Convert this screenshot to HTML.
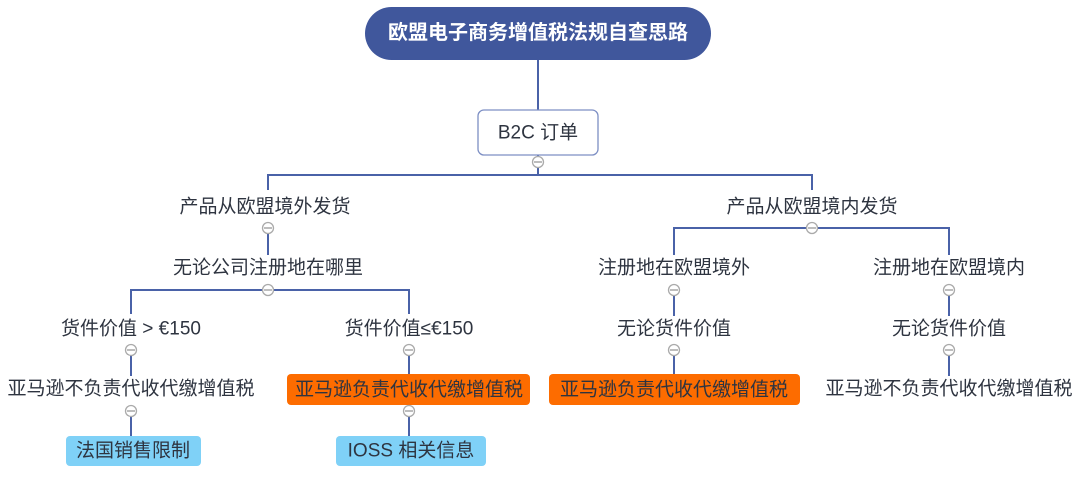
<!DOCTYPE html>
<html><head><meta charset="utf-8"><style>
html,body{margin:0;padding:0;background:#fff;width:1080px;height:478px;overflow:hidden}
svg{display:block}
text{font-family:"Liberation Sans","Noto Sans CJK SC",sans-serif;font-size:19px;fill:#2e3440;text-anchor:middle;dominant-baseline:central}
.l{stroke:#4a62a8;stroke-width:2;fill:none}
.c{fill:#fff;stroke:#aaa;stroke-width:1.3}
.cm{stroke:#999;stroke-width:1.3}
</style></head><body>
<svg width="1080" height="478" viewBox="0 0 1080 478">
<path class="l" d="M538 60V110"/>
<path class="l" d="M538 155V175M268 190V175H812V190"/>
<path class="l" d="M268 234V255M268 290H131V314M268 290H409V314"/>
<path class="l" d="M131 355V376M131 416V437M409 355V376M409 416V437"/>
<path class="l" d="M812 228H674V255M812 228H949V255"/>
<path class="l" d="M674 296V316M674 355V376M949 296V316M949 355V376"/>
<rect x="365" y="7" width="346" height="53" rx="26.5" fill="#40579c"/>
<text x="538" y="33" style="fill:#fff;font-weight:bold;font-size:20px">欧盟电子商务增值税法规自查思路</text>
<rect x="478" y="110" width="120" height="45" rx="6" fill="#fff" stroke="#7d8fc4" stroke-width="1.3"/>
<text x="538" y="133">B2C 订单</text>
<text x="265" y="207">产品从欧盟境外发货</text>
<text x="812" y="207">产品从欧盟境内发货</text>
<text x="268" y="268">无论公司注册地在哪里</text>
<text x="674" y="268">注册地在欧盟境外</text>
<text x="949" y="268">注册地在欧盟境内</text>
<text x="131" y="329">货件价值 &gt; €150</text>
<text x="409" y="329">货件价值≤€150</text>
<text x="674" y="329">无论货件价值</text>
<text x="949" y="329">无论货件价值</text>
<text x="131" y="389">亚马逊不负责代收代缴增值税</text>
<rect x="287" y="374" width="243" height="31" rx="4" fill="#fd6c00"/>
<text x="409" y="390">亚马逊负责代收代缴增值税</text>
<rect x="549" y="374" width="251" height="31" rx="4" fill="#fd6c00"/>
<text x="674" y="390">亚马逊负责代收代缴增值税</text>
<text x="949" y="389">亚马逊不负责代收代缴增值税</text>
<rect x="66" y="436" width="135" height="30" rx="4" fill="#7fd1f7"/>
<text x="133" y="451">法国销售限制</text>
<rect x="336" y="436" width="150" height="30" rx="4" fill="#7fd1f7"/>
<text x="411" y="451">IOSS 相关信息</text>
<g>
<circle class="c" cx="538" cy="162" r="5.5"/><path class="cm" d="M534 162h8"/>
<circle class="c" cx="268" cy="228" r="5.5"/><path class="cm" d="M264 228h8"/>
<circle class="c" cx="812" cy="228" r="5.5"/><path class="cm" d="M808 228h8"/>
<circle class="c" cx="268" cy="290" r="5.5"/><path class="cm" d="M264 290h8"/>
<circle class="c" cx="674" cy="290" r="5.5"/><path class="cm" d="M670 290h8"/>
<circle class="c" cx="949" cy="290" r="5.5"/><path class="cm" d="M945 290h8"/>
<circle class="c" cx="131" cy="350" r="5.5"/><path class="cm" d="M127 350h8"/>
<circle class="c" cx="409" cy="350" r="5.5"/><path class="cm" d="M405 350h8"/>
<circle class="c" cx="674" cy="350" r="5.5"/><path class="cm" d="M670 350h8"/>
<circle class="c" cx="949" cy="350" r="5.5"/><path class="cm" d="M945 350h8"/>
<circle class="c" cx="131" cy="411" r="5.5"/><path class="cm" d="M127 411h8"/>
<circle class="c" cx="409" cy="411" r="5.5"/><path class="cm" d="M405 411h8"/>
</g>
</svg>
</body></html>
